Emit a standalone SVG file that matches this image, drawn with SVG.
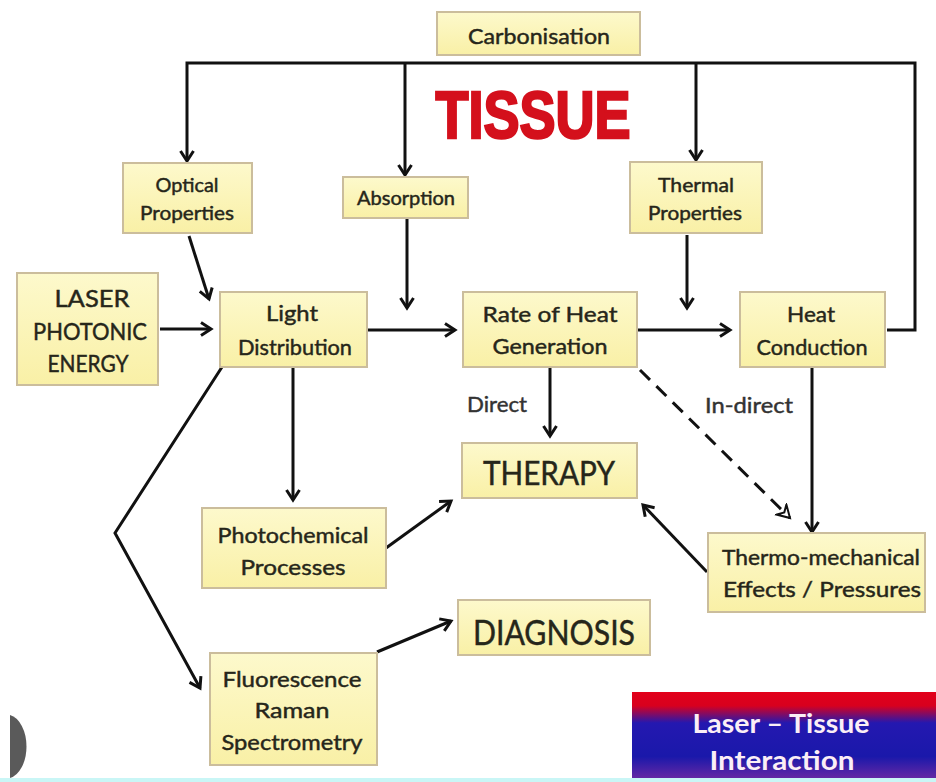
<svg xmlns="http://www.w3.org/2000/svg" width="936" height="782" viewBox="0 0 936 782">
<defs>
<linearGradient id="boxg" x1="0" y1="0" x2="0" y2="1">
<stop offset="0" stop-color="#fdf9cc"/>
<stop offset="1" stop-color="#f9f0a6"/>
</linearGradient>
<linearGradient id="titleg" x1="0" y1="0" x2="0" y2="1">
<stop offset="0" stop-color="#e2001a"/>
<stop offset="0.16" stop-color="#d8001e"/>
<stop offset="0.36" stop-color="#2418b0"/>
<stop offset="0.75" stop-color="#1a18aa"/>
<stop offset="1" stop-color="#6428a4"/>
</linearGradient>
<marker id="arr" markerUnits="userSpaceOnUse" markerWidth="16" markerHeight="18" refX="12" refY="8" orient="auto">
<path d="M2,1.5 L12,8 L2,14.5" fill="none" stroke="#111" stroke-width="3" stroke-linejoin="miter"/>
</marker>
<marker id="arrOpen" markerUnits="userSpaceOnUse" markerWidth="18" markerHeight="18" refX="13" refY="8" orient="auto">
<path d="M1,1 L13,8 L1,15 L5,8 Z" fill="#fff" stroke="#111" stroke-width="2" stroke-linejoin="miter"/>
</marker>
<style>
.box{fill:url(#boxg);stroke:#cbbd9c;stroke-width:2}
.t{font-family:Lato,"Open Sans","Liberation Sans",sans-serif;fill:#26261a;stroke:#26261a;stroke-width:0.45;text-anchor:middle}
.c{fill:none;stroke:#111;stroke-width:3}
</style>
</defs>
<rect width="936" height="782" fill="#ffffff"/>

<g id="connectors">
<path class="c" d="M887,330 H915 V63 H187 V161" marker-end="url(#arr)"/>
<path class="c" d="M405,63 V175" marker-end="url(#arr)"/>
<path class="c" d="M696,63 V160" marker-end="url(#arr)"/>
<path class="c" d="M189,236 L209,299" marker-end="url(#arr)"/>
<path class="c" d="M160,329 H211" marker-end="url(#arr)"/>
<path class="c" d="M407,219 V308" marker-end="url(#arr)"/>
<path class="c" d="M368,330 H455" marker-end="url(#arr)"/>
<path class="c" d="M687,235 V308" marker-end="url(#arr)"/>
<path class="c" d="M638,330 H730" marker-end="url(#arr)"/>
<path class="c" d="M550,368 V436" marker-end="url(#arr)"/>
<path class="c" d="M293,368 V500" marker-end="url(#arr)"/>
<path class="c" d="M222,367 L115,533 L200,688" marker-end="url(#arr)"/>
<path class="c" d="M386,548 L451,501" marker-end="url(#arr)"/>
<path class="c" d="M377,652 L451,621" marker-end="url(#arr)"/>
<path class="c" d="M640,370 L790,518" stroke-dasharray="14,9" marker-end="url(#arrOpen)"/>
<path class="c" d="M812,368 V532" marker-end="url(#arr)"/>
<path class="c" d="M707,572 L643,505" marker-end="url(#arr)"/>
</g>

<g id="title">
<text x="533" y="138" text-anchor="middle" font-family="'Liberation Sans',Arial,sans-serif" font-weight="bold" font-size="66" fill="#d4101c" stroke="#d4101c" stroke-width="2.5" textLength="195" lengthAdjust="spacingAndGlyphs">TISSUE</text>
</g>

<g id="carbonisation">
<rect class="box" x="437" y="12" width="203" height="43"/>
<text class="t" x="539" y="44" font-size="22" textLength="142" lengthAdjust="spacingAndGlyphs">Carbonisation</text>
</g>

<g id="optical">
<rect class="box" x="123" y="163" width="129" height="70"/>
<text class="t" x="187" y="192" font-size="19" textLength="63" lengthAdjust="spacingAndGlyphs">Optical</text>
<text class="t" x="187" y="220" font-size="19" textLength="94" lengthAdjust="spacingAndGlyphs">Properties</text>
</g>

<g id="absorption">
<rect class="box" x="343" y="177" width="125" height="41"/>
<text class="t" x="406" y="205" font-size="19" textLength="98" lengthAdjust="spacingAndGlyphs">Absorption</text>
</g>

<g id="thermal">
<rect class="box" x="630" y="162" width="132" height="71"/>
<text class="t" x="696" y="192" font-size="19" textLength="76" lengthAdjust="spacingAndGlyphs">Thermal</text>
<text class="t" x="695" y="220" font-size="19" textLength="94" lengthAdjust="spacingAndGlyphs">Properties</text>
</g>

<g id="laser">
<rect class="box" x="17" y="273" width="141" height="112"/>
<text class="t" x="92" y="307" font-size="24" textLength="75" lengthAdjust="spacingAndGlyphs">LASER</text>
<text class="t" x="90" y="340" font-size="24" textLength="114" lengthAdjust="spacingAndGlyphs">PHOTONIC</text>
<text class="t" x="88" y="372" font-size="24" textLength="81" lengthAdjust="spacingAndGlyphs">ENERGY</text>
</g>

<g id="light">
<rect class="box" x="220" y="292" width="147" height="75"/>
<text class="t" x="292" y="321" font-size="22" textLength="52" lengthAdjust="spacingAndGlyphs">Light</text>
<text class="t" x="295" y="355" font-size="22" textLength="114" lengthAdjust="spacingAndGlyphs">Distribution</text>
</g>

<g id="rate">
<rect class="box" x="463" y="292" width="174" height="75"/>
<text class="t" x="550" y="322" font-size="22" textLength="135" lengthAdjust="spacingAndGlyphs">Rate of Heat</text>
<text class="t" x="550" y="354" font-size="22" textLength="115" lengthAdjust="spacingAndGlyphs">Generation</text>
</g>

<g id="heat">
<rect class="box" x="740" y="292" width="145" height="75"/>
<text class="t" x="811" y="322" font-size="22" textLength="48" lengthAdjust="spacingAndGlyphs">Heat</text>
<text class="t" x="812" y="355" font-size="22" textLength="111" lengthAdjust="spacingAndGlyphs">Conduction</text>
</g>

<g id="labels">
<text class="t" x="497" y="412" font-size="22" style="fill:#333;stroke:#333" textLength="60" lengthAdjust="spacingAndGlyphs">Direct</text>
<text class="t" x="749" y="413" font-size="22" style="fill:#333;stroke:#333" textLength="88" lengthAdjust="spacingAndGlyphs">In-direct</text>
</g>

<g id="therapy">
<rect class="box" x="462" y="443" width="175" height="55"/>
<text class="t" x="549" y="485" font-size="33" textLength="132" lengthAdjust="spacingAndGlyphs">THERAPY</text>
</g>

<g id="photochemical">
<rect class="box" x="202" y="508" width="184" height="80"/>
<text class="t" x="293" y="543" font-size="22" textLength="151" lengthAdjust="spacingAndGlyphs">Photochemical</text>
<text class="t" x="293" y="575" font-size="22" textLength="105" lengthAdjust="spacingAndGlyphs">Processes</text>
</g>

<g id="thermomechanical">
<rect class="box" x="708" y="533" width="217" height="79"/>
<text class="t" x="821" y="565" font-size="22" textLength="198" lengthAdjust="spacingAndGlyphs">Thermo-mechanical</text>
<text class="t" x="822" y="597" font-size="22" textLength="198" lengthAdjust="spacingAndGlyphs">Effects / Pressures</text>
</g>

<g id="diagnosis">
<rect class="box" x="458" y="600" width="192" height="55"/>
<text class="t" x="554" y="645" font-size="35" textLength="162" lengthAdjust="spacingAndGlyphs">DIAGNOSIS</text>
</g>

<g id="fluorescence">
<rect class="box" x="210" y="653" width="167" height="112"/>
<text class="t" x="292" y="687" font-size="22" textLength="139" lengthAdjust="spacingAndGlyphs">Fluorescence</text>
<text class="t" x="292" y="718" font-size="22" textLength="75" lengthAdjust="spacingAndGlyphs">Raman</text>
<text class="t" x="292" y="750" font-size="22" textLength="141" lengthAdjust="spacingAndGlyphs">Spectrometry</text>
</g>

<g id="banner">
<rect x="632" y="692" width="304" height="86" fill="url(#titleg)"/>
<text x="781" y="733" text-anchor="middle" font-family="Lato,'Open Sans',sans-serif" font-weight="bold" font-size="26" fill="#fbeef6" textLength="177" lengthAdjust="spacingAndGlyphs">Laser – Tissue</text>
<text x="782" y="770" text-anchor="middle" font-family="Lato,'Open Sans',sans-serif" font-weight="bold" font-size="26" fill="#fbeef6" textLength="145" lengthAdjust="spacingAndGlyphs">Interaction</text>
</g>

<g id="decor">
<path d="M10,715 A20,32 0 0 1 10,778 Z" fill="#5a5a5a"/>
<rect x="0" y="778" width="936" height="4" fill="#c9f6f6"/>
</g>
</svg>
